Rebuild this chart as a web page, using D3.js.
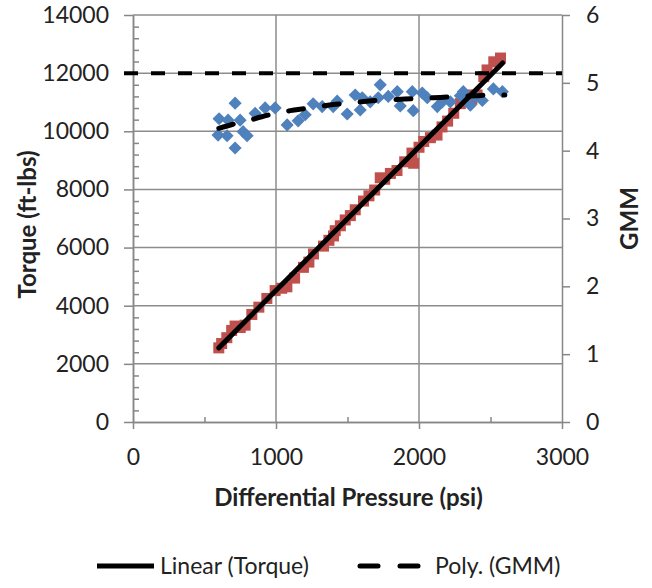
<!DOCTYPE html>
<html lang="en">
<head>
  <meta charset="utf-8">
  <title>Torque and GMM vs Differential Pressure</title>
  <script src="https://d3js.org/d3.v7.min.js"></script>
  <style>
    body { margin: 0; background: #fff; }
    text { font-family: Lato, "Open Sans", sans-serif; fill: #222; }
    .axis path, .axis line { stroke: #878787; stroke-width: 1.5; }
    .grid line { stroke: #8c8c8c; stroke-width: 1.5; }
    .title { font-weight: bold; font-size: 24px; }
  </style>
</head>
<body>
<script>
  // torque readings (ft-lbs) vs differential pressure (psi)
  const torquePsi = [600, 620, 656, 690, 714, 750, 784, 831, 880, 936, 994, 1040, 1076, 1130, 1192, 1230,
    1262, 1332, 1370, 1402, 1414, 1450, 1484, 1520, 1554, 1612, 1650, 1690, 1729, 1760, 1800, 1846,
    1900, 1951, 1963, 2000, 2033, 2080, 2126, 2161, 2200, 2243, 2289, 2336, 2370, 2406, 2453, 2476, 2523, 2570];
  const torqueVal = [2550, 2700, 2900, 3150, 3300, 3250, 3330, 3700, 3950, 4250, 4520, 4600, 4650, 4950, 5320, 5500,
    5780, 6050, 6250, 6400, 6580, 6750, 6950, 7100, 7300, 7600, 7780, 7980, 8400, 8350, 8550, 8650,
    8950, 9250, 8900, 9450, 9650, 9780, 9870, 10150, 10350, 10620, 10950, 11250, 11100, 11250, 11880, 12110, 12390, 12520];

  // GMM readings vs differential pressure (psi)
  const gmmPsi = [595, 602, 658, 665, 714, 714, 749, 770, 798, 854, 924, 994, 1078, 1155, 1204, 1260, 1323, 1400,
    1428, 1498, 1554, 1589, 1603, 1659, 1715, 1729, 1785, 1848, 1869, 1953, 1960, 2023, 2058, 2128, 2163,
    2219, 2289, 2310, 2359, 2394, 2443, 2520, 2583];
  const gmmVal = [4.23, 4.47, 4.22, 4.45, 4.70, 4.04, 4.45, 4.28, 4.22, 4.55, 4.63, 4.63, 4.38, 4.44, 4.53, 4.69, 4.65, 4.65,
    4.73, 4.54, 4.82, 4.60, 4.78, 4.72, 4.78, 4.97, 4.80, 4.87, 4.66, 4.87, 4.59, 4.85, 4.78, 4.65, 4.72,
    4.72, 4.81, 4.87, 4.67, 4.80, 4.74, 4.91, 4.87];

  // trendlines
  const linearPsi = [600, 2585];
  const linearTorque = [2550, 12350];
  const polyPsi = [600, 700, 800, 900, 1000, 1100, 1200, 1300, 1400, 1500, 1600, 1700, 1800, 1900, 2000, 2100, 2200, 2300, 2400, 2500, 2600];
  const polyGmm = [4.33, 4.39, 4.44, 4.50, 4.55, 4.59, 4.62, 4.65, 4.68, 4.70, 4.72, 4.74, 4.75, 4.76, 4.77, 4.78, 4.79, 4.80, 4.81, 4.82, 4.82];
  const limitTorque = 12000;

  const xTicks = [0, 1000, 2000, 3000];
  const xMinor = [500, 1500, 2500];
  const yLeftTicks = [0, 2000, 4000, 6000, 8000, 10000, 12000, 14000];
  const yLeftMinor = d3.range(0, 14001, 400).filter(v => v % 2000 !== 0);
  const yRightTicks = [0, 1, 2, 3, 4, 5, 6];

  const W = 652, H = 588;
  const pL = 133, pR = 562, pT = 15, pB = 422;

  const svg = d3.select("body").append("svg")
    .attr("width", W).attr("height", H);

  const x = d3.scaleLinear().domain([0, 3000]).range([pL, pR]);
  const yL = d3.scaleLinear().domain([0, 14000]).range([pB, pT]);
  const yR = d3.scaleLinear().domain([0, 6]).range([pB, pT]);

  // gridlines
  const grid = svg.append("g").attr("class", "grid");
  grid.selectAll(".h").data(yLeftTicks.filter(d => d > 0)).join("line")
    .attr("x1", pL).attr("x2", pR)
    .attr("y1", d => yL(d)).attr("y2", d => yL(d));
  grid.selectAll(".v").data(xTicks.filter(d => d > 0 && d < 3000)).join("line")
    .attr("x1", d => x(d)).attr("x2", d => x(d))
    .attr("y1", pT).attr("y2", pB);

  // axes
  const fmt = d3.format("d");
  const axL = svg.append("g").attr("class", "axis").attr("transform", `translate(${pL},0)`)
    .call(d3.axisLeft(yL).tickValues(yLeftTicks).tickSize(9).tickPadding(15).tickFormat(fmt).tickSizeOuter(0));
  svg.append("g").attr("class", "axis").attr("transform", `translate(${pL},0)`)
    .call(d3.axisRight(yL).tickValues(yLeftMinor).tickSize(6).tickFormat("").tickSizeOuter(0));
  const axR = svg.append("g").attr("class", "axis").attr("transform", `translate(${pR},0)`)
    .call(d3.axisRight(yR).tickValues(yRightTicks).tickSize(8).tickPadding(16).tickFormat(fmt).tickSizeOuter(0));
  const axB = svg.append("g").attr("class", "axis").attr("transform", `translate(0,${pB})`)
    .call(d3.axisBottom(x).tickValues(xTicks).tickSize(7).tickPadding(20).tickFormat(fmt).tickSizeOuter(0));
  svg.append("g").attr("class", "axis").attr("transform", `translate(0,${pB})`)
    .call(d3.axisTop(x).tickValues(xMinor).tickSize(5).tickFormat("").tickSizeOuter(0));
  [axL, axR, axB].forEach(a => a.selectAll("text").style("font-size", "23px").style("fill", "#222"));

  // torque squares
  const torque = torquePsi.map((p, i) => ({ p, v: torqueVal[i] }));
  svg.append("g").selectAll("rect").data(torque).join("rect")
    .attr("x", d => x(d.p) - 5.5).attr("y", d => yL(d.v) - 5.5)
    .attr("width", 11).attr("height", 11)
    .attr("fill", "#c0504d");

  // GMM diamonds
  const gmm = gmmPsi.map((p, i) => ({ p, v: gmmVal[i] }));
  svg.append("g").selectAll("path").data(gmm).join("path")
    .attr("d", d3.symbol().type(d3.symbolDiamond2).size(110))
    .attr("transform", d => `translate(${x(d.p)},${yR(d.v)})`)
    .attr("fill", "#4f81bd");

  // limit line at 12000
  svg.append("line")
    .attr("x1", pL - 9).attr("x2", pR)
    .attr("y1", yL(limitTorque)).attr("y2", yL(limitTorque))
    .attr("stroke", "#000").attr("stroke-width", 4)
    .attr("stroke-dasharray", "14,13");

  // poly trend
  const polyLine = d3.line().x(d => x(d[0])).y(d => yR(d[1])).curve(d3.curveMonotoneX);
  svg.append("path")
    .attr("d", polyLine(polyPsi.map((p, i) => [p, polyGmm[i]])))
    .attr("fill", "none").attr("stroke", "#000").attr("stroke-width", 5)
    .attr("stroke-linecap", "round").attr("stroke-dasharray", "15,21");

  // linear trend
  const linLine = d3.line().x(d => x(d[0])).y(d => yL(d[1]));
  svg.append("path")
    .attr("d", linLine(linearPsi.map((p, i) => [p, linearTorque[i]])))
    .attr("fill", "none").attr("stroke", "#000").attr("stroke-width", 5)
    .attr("stroke-linecap", "round");

  // titles
  svg.append("text").attr("class", "title")
    .attr("text-anchor", "middle")
    .attr("transform", `translate(36,${(pT + pB) / 2 + 6}) rotate(-90)`)
    .text("Torque (ft-lbs)");
  svg.append("text").attr("class", "title")
    .attr("text-anchor", "middle")
    .attr("transform", `translate(638,${(pT + pB) / 2}) rotate(-90)`)
    .text("GMM");
  svg.append("text").attr("class", "title")
    .attr("text-anchor", "middle")
    .attr("x", (pL + pR) / 2 + 1).attr("y", 506)
    .text("Differential Pressure (psi)");

  // legend
  const lg = svg.append("g").attr("transform", "translate(0,566)");
  lg.append("line").attr("x1", 97).attr("x2", 154).attr("y1", 0).attr("y2", 0)
    .attr("stroke", "#000").attr("stroke-width", 5);
  lg.append("text").attr("x", 160).attr("y", 8).style("font-size", "23px").text("Linear (Torque)");
  lg.append("line").attr("x1", 360).attr("x2", 420).attr("y1", 0).attr("y2", 0)
    .attr("stroke", "#000").attr("stroke-width", 5).attr("stroke-linecap", "round")
    .attr("stroke-dasharray", "18,22");
  lg.append("text").attr("x", 435).attr("y", 8).style("font-size", "23px").text("Poly. (GMM)");
</script>
</body>
</html>
